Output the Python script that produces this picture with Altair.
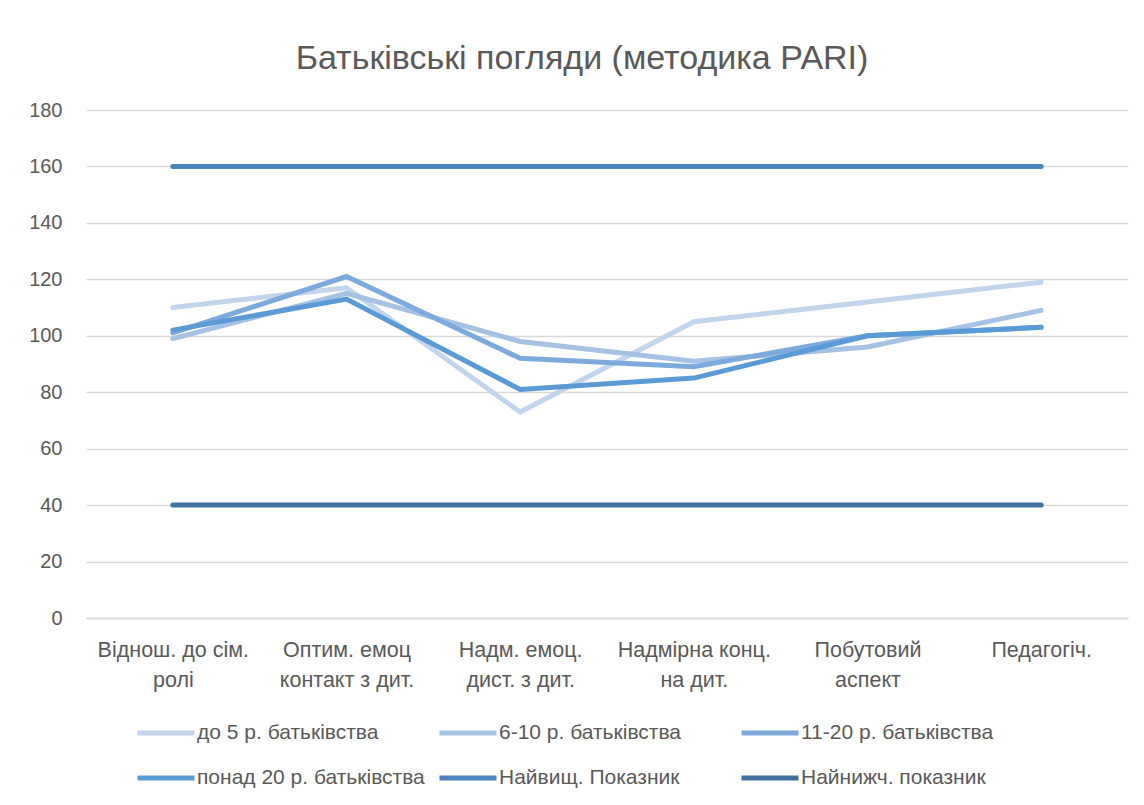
import altair as alt
import pandas as pd

categories = [
    "Віднош. до сім.|ролі",
    "Оптим. емоц|контакт з дит.",
    "Надм. емоц.|дист. з дит.",
    "Надмірна конц.|на дит.",
    "Побутовий|аспект",
    "Педагогіч.",
]
series_names = [
    "до 5 р. батьківства",
    "6-10 р. батьківства",
    "11-20 р. батьківства",
    "понад 20 р. батьківства",
    "Найвищ. Показник",
    "Найнижч. показник",
]
up_to_5 = [110, 117, 73, 105, 112, 119]
y6_10 = [99, 115, 98, 91, 96, 109]
y11_20 = [101, 121, 92, 89, 100, 103]
over_20 = [102, 113, 81, 85, 100, 103]
highest = [160, 160, 160, 160, 160, 160]
lowest = [40, 40, 40, 40, 40, 40]
colors = ["#C3D5ED", "#A5C2E5", "#7DAADC", "#5B9BD5", "#4A83BE", "#41719C"]

all_series = [up_to_5, y6_10, y11_20, over_20, highest, lowest]
rows = []
for name, vals in zip(series_names, all_series):
    for i, (c, v) in enumerate(zip(categories, vals)):
        rows.append({"series": name, "category": c, "value": v, "ci": i})
df = pd.DataFrame(rows)

FONT = "Liberation Sans"
GRAY = "#595959"

chart = (
    alt.Chart(df)
    .mark_line(strokeWidth=5, strokeCap="round", strokeJoin="miter")
    .encode(
        x=alt.X(
            "category:N",
            sort=categories,
            scale=alt.Scale(type="point", padding=0.5),
            axis=alt.Axis(
                title=None,
                labelAngle=0,
                labelExpr="split(datum.label, '|')",
                labelFont=FONT,
                labelFontSize=21.5,
                labelColor=GRAY,
                labelPadding=21,
                labelLineHeight=30,
                labelBaseline="top",
                ticks=False,
                grid=False,
                domainColor="#D9D9D9",
                domainWidth=1.5,
            ),
        ),
        y=alt.Y(
            "value:Q",
            scale=alt.Scale(domain=[0, 180], nice=False),
            axis=alt.Axis(
                title=None,
                values=list(range(0, 181, 20)),
                labelFont=FONT,
                labelFontSize=20,
                labelColor=GRAY,
                labelPadding=24,
                ticks=False,
                domain=False,
                gridColor="#D9D9D9",
                gridWidth=1.5,
            ),
        ),
        color=alt.Color(
            "series:N",
            sort=series_names,
            scale=alt.Scale(domain=series_names, range=colors),
            legend=alt.Legend(
                title=None,
                orient="none",
                direction="horizontal",
                legendX=49,
                legendY=592,
                columns=3,
                gridAlign="all",
                columnPadding=4,
                rowPadding=4,
                symbolType="stroke",
                symbolSize=3249,
                symbolStrokeWidth=5,
                labelFont=FONT,
                labelFontSize=21,
                labelColor=GRAY,
                labelOffset=0,
                labelLimit=400,
            ),
        ),
        order="ci:Q",
    )
    .properties(
        width=1042,
        height=508,
        autosize=alt.AutoSizeParams(type="none"),
        padding={"left": 78, "top": 102, "right": 8, "bottom": 179},
        title=alt.TitleParams(
            "Батьківські погляди (методика PARI)",
            font=FONT,
            fontSize=34,
            fontWeight="normal",
            color=GRAY,
            offset=24,
            dx=-25,
        ),
    )
    .configure_view(stroke=None)
)

chart.save("out.html", embed_options={"renderer": "svg", "actions": False})
